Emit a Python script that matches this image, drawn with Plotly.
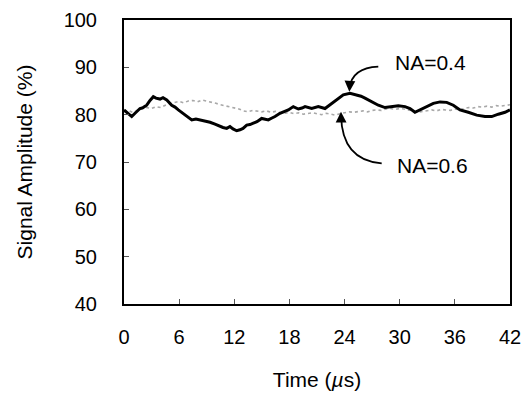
import plotly.graph_objects as go

# NA=0.4 (black)
t_na04 = [0.0, 0.44, 0.84, 1.2, 1.74, 2.07, 2.47, 2.83, 3.19, 3.48, 3.92, 4.24, 4.65, 5.19, 5.55,
          5.91, 6.31, 6.82, 7.37, 7.83, 8.27, 8.81, 9.36, 9.90, 10.45, 10.77, 11.18, 11.53, 11.86,
          12.26, 12.62, 12.95, 13.35, 13.71, 14.07, 14.47, 14.98, 15.34, 15.70, 16.10, 16.43, 16.97,
          17.41, 17.88, 18.42, 18.97, 19.37, 19.70, 20.42, 21.14, 21.87, 22.20, 22.60, 22.96, 23.32,
          23.86, 24.59, 25.32, 25.79, 26.22, 26.95, 27.67, 28.40, 29.13, 29.85, 30.58, 31.12, 31.66,
          32.21, 32.94, 33.66, 34.39, 35.11, 35.83, 36.56, 37.46, 38.38, 39.28, 40.01, 40.73, 41.46, 42.0]
v_na04 = [81.0, 80.2, 79.6, 80.3, 81.3, 81.5, 82.0, 83.0, 83.8, 83.5, 83.3, 83.6, 83.1, 82.0, 81.6,
          81.0, 80.4, 79.6, 78.9, 79.1, 78.9, 78.7, 78.4, 78.0, 77.5, 77.3, 77.1, 77.5, 77.0,
          76.6, 76.8, 77.1, 77.8, 77.9, 78.2, 78.5, 79.2, 79.0, 78.9, 79.3, 79.6, 80.3,
          80.6, 81.0, 81.7, 81.2, 81.4, 81.7, 81.3, 81.7, 81.3, 81.8, 82.4, 83.0, 83.5,
          84.2, 84.5, 84.2, 83.9, 83.5, 82.7, 82.0, 81.5, 81.7, 81.9, 81.7, 81.3, 80.5,
          81.0, 81.7, 82.4, 82.7, 82.6, 82.0, 81.0, 80.5, 79.9, 79.6, 79.6, 80.1, 80.5, 81.0]

# NA=0.6 (gray)
t_na06 = [0, 0.5, 1, 1.5, 2, 2.5, 3, 3.5, 4, 4.5, 5, 5.5, 6, 6.5, 7, 7.5, 8, 8.5, 9, 9.5, 10,
          10.5, 11, 11.5, 12, 12.5, 13, 13.5, 14, 14.5, 15, 15.5, 16, 16.5, 17, 17.5, 18, 18.5,
          19, 19.5, 20, 20.5, 21, 21.5, 22, 22.5, 23, 23.5, 24, 24.5, 25, 25.5, 26, 26.5, 27,
          27.5, 28, 28.5, 29, 29.5, 30, 30.5, 31, 31.5, 32, 32.5, 33, 33.5, 34, 34.5, 35, 35.5,
          36, 36.5, 37, 37.5, 38, 38.5, 39, 39.5, 40, 40.5, 41, 41.5, 42]
v_na06 = [80.6, 80.9, 80.4, 81.0, 81.2, 81.5, 81.3, 81.7, 81.5, 82.0, 82.3, 82.6, 82.8, 82.5,
          82.9, 83.0, 82.7, 83.1, 82.9, 82.6, 82.4, 82.1, 81.9, 81.7, 81.4, 81.2, 80.8, 80.6,
          80.9, 80.7, 80.6, 80.8, 80.5, 80.7, 80.4, 80.3, 80.5, 80.2, 80.4, 80.1, 80.3, 80.4,
          80.2, 80.0, 80.3, 80.1, 79.9, 80.2, 80.4, 80.6, 80.5, 80.7, 80.8, 80.6, 80.9, 81.0,
          80.9, 81.2, 81.3, 81.1, 81.3, 81.2, 81.0, 80.7, 80.5, 80.7, 80.9, 81.0, 80.8, 81.1,
          81.0, 80.9, 81.2, 81.0, 81.3, 81.5, 81.4, 81.7, 81.6, 81.8, 81.6, 81.9, 81.8, 82.0, 82.1]

x_ticks = [0, 6, 12, 18, 24, 30, 36, 42]
y_ticks = [40, 50, 60, 70, 80, 90, 100]

FONT = "Liberation Sans, Arial, sans-serif"

fig = go.Figure()
fig.add_trace(go.Scatter(x=t_na06, y=v_na06, mode="lines", name="NA=0.6",
                         line=dict(color="#a8a8a8", width=1.6, dash="dot")))
fig.add_trace(go.Scatter(x=t_na04, y=v_na04, mode="lines", name="NA=0.4",
                         line=dict(color="black", width=3)))

# curved arrows
fig.add_shape(type="path", xref="x", yref="y",
              path="M 27.67 90.14 Q 24.8 89.9 24.55 85.6",
              line=dict(color="black", width=1.8))
fig.add_shape(type="path", xref="x", yref="y",
              path="M 28.04 69.73 Q 23.7 70.4 23.62 79.9",
              line=dict(color="black", width=1.8))
fig.add_annotation(x=24.52, y=84.86, ax=24.56, ay=86.3, xref="x", yref="y",
                   axref="x", ayref="y", showarrow=True, arrowhead=2, arrowsize=1.2,
                   arrowwidth=1.8, arrowcolor="black", text="")
fig.add_annotation(x=23.61, y=80.63, ax=23.62, ay=79.0, xref="x", yref="y",
                   axref="x", ayref="y", showarrow=True, arrowhead=2, arrowsize=1.2,
                   arrowwidth=1.8, arrowcolor="black", text="")
fig.add_annotation(x=33.4, y=91.0, text="NA=0.4", showarrow=False,
                   font=dict(family=FONT, size=21, color="black"))
fig.add_annotation(x=33.6, y=69.3, text="NA=0.6", showarrow=False,
                   font=dict(family=FONT, size=21, color="black"))

fig.update_layout(
    width=527, height=393,
    margin=dict(l=124, r=17, t=20, b=89),
    plot_bgcolor="white", paper_bgcolor="white",
    showlegend=False,
    font=dict(family=FONT, size=20, color="black"),
)
fig.update_xaxes(range=[0, 42], tickvals=x_ticks, ticktext=[str(v) for v in x_ticks],
                 showgrid=False, zeroline=False, showline=True, linecolor="black", linewidth=2,
                 mirror=True, ticks="inside", ticklen=5, tickcolor="#555", tickwidth=1,
                 ticklabelstandoff=14, automargin=False,
                 title=dict(text="Time (<i>µ</i>s)", font=dict(size=21), standoff=25))
fig.update_yaxes(range=[40, 100], tickvals=y_ticks, ticktext=[str(v) for v in y_ticks],
                 showgrid=False, zeroline=False, showline=True, linecolor="black", linewidth=2,
                 mirror=True, ticks="inside", ticklen=5, tickcolor="#555", tickwidth=1,
                 ticklabelstandoff=21, automargin=False,
                 title=dict(text="Signal Amplitude (%)", font=dict(size=21), standoff=25))

fig.write_html("out.html", config={"displayModeBar": False},
               post_script="document.body.style.margin='0';")
